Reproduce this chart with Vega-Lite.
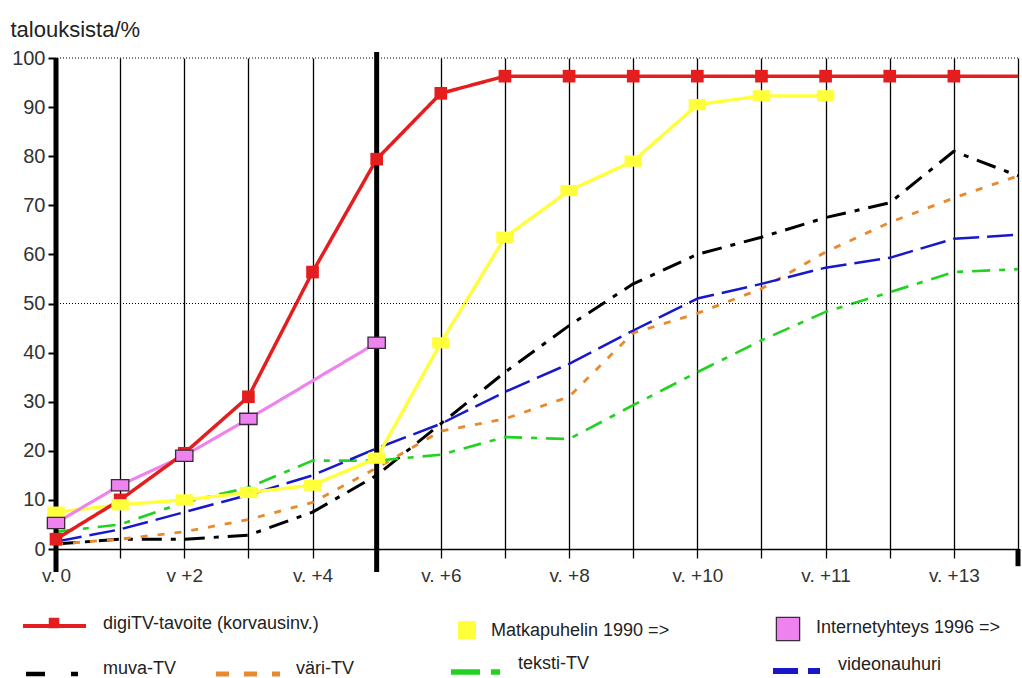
{
  "$schema": "https://vega.github.io/schema/vega-lite/v6.json",
  "background": "white",
  "padding": {"left": 10, "top": 18, "right": 0, "bottom": 0},
  "spacing": 14,
  "config": {
    "view": {"stroke": null},
    "font": "Liberation Sans",
    "axisX": {"labelOverlap": false, "tickSize": 9, "tickColor": "#000", "tickWidth": 1.3},
    "axisY": {"labelOverlap": false, "tickSize": 8, "tickColor": "#000", "tickWidth": 2}
  },
  "datasets": {
    "series": [
      {"series": "muva-TV", "x": 0, "y": 1}, {"series": "muva-TV", "x": 1, "y": 2}, {"series": "muva-TV", "x": 2, "y": 2}, {"series": "muva-TV", "x": 3, "y": 2.8}, {"series": "muva-TV", "x": 4, "y": 7.5}, {"series": "muva-TV", "x": 5, "y": 15}, {"series": "muva-TV", "x": 6, "y": 25.5}, {"series": "muva-TV", "x": 7, "y": 36}, {"series": "muva-TV", "x": 8, "y": 45.5}, {"series": "muva-TV", "x": 9, "y": 54}, {"series": "muva-TV", "x": 10, "y": 60}, {"series": "muva-TV", "x": 11, "y": 63.5}, {"series": "muva-TV", "x": 12, "y": 67.5}, {"series": "muva-TV", "x": 13, "y": 70.5}, {"series": "muva-TV", "x": 14, "y": 81}, {"series": "muva-TV", "x": 15, "y": 76},
      {"series": "väri-TV", "x": 0, "y": 1}, {"series": "väri-TV", "x": 1, "y": 2}, {"series": "väri-TV", "x": 2, "y": 3.5}, {"series": "väri-TV", "x": 3, "y": 6}, {"series": "väri-TV", "x": 4, "y": 9.5}, {"series": "väri-TV", "x": 5, "y": 16.5}, {"series": "väri-TV", "x": 6, "y": 24}, {"series": "väri-TV", "x": 7, "y": 26.5}, {"series": "väri-TV", "x": 8, "y": 31}, {"series": "väri-TV", "x": 9, "y": 44}, {"series": "väri-TV", "x": 10, "y": 48}, {"series": "väri-TV", "x": 11, "y": 53}, {"series": "väri-TV", "x": 12, "y": 60.5}, {"series": "väri-TV", "x": 13, "y": 66.5}, {"series": "väri-TV", "x": 14, "y": 71.5}, {"series": "väri-TV", "x": 15, "y": 76},
      {"series": "teksti-TV", "x": 0, "y": 3.5}, {"series": "teksti-TV", "x": 1, "y": 5}, {"series": "teksti-TV", "x": 2, "y": 9.5}, {"series": "teksti-TV", "x": 3, "y": 12.5}, {"series": "teksti-TV", "x": 4, "y": 18}, {"series": "teksti-TV", "x": 5, "y": 18}, {"series": "teksti-TV", "x": 6, "y": 19.2}, {"series": "teksti-TV", "x": 7, "y": 22.8}, {"series": "teksti-TV", "x": 8, "y": 22.4}, {"series": "teksti-TV", "x": 9, "y": 29.3}, {"series": "teksti-TV", "x": 10, "y": 36}, {"series": "teksti-TV", "x": 11, "y": 42.5}, {"series": "teksti-TV", "x": 12, "y": 48.3}, {"series": "teksti-TV", "x": 13, "y": 52.3}, {"series": "teksti-TV", "x": 14, "y": 56.4}, {"series": "teksti-TV", "x": 15, "y": 57},
      {"series": "videonauhuri", "x": 0, "y": 1.5}, {"series": "videonauhuri", "x": 1, "y": 4}, {"series": "videonauhuri", "x": 2, "y": 7.5}, {"series": "videonauhuri", "x": 3, "y": 11}, {"series": "videonauhuri", "x": 4, "y": 15}, {"series": "videonauhuri", "x": 5, "y": 20.5}, {"series": "videonauhuri", "x": 6, "y": 25.5}, {"series": "videonauhuri", "x": 7, "y": 32}, {"series": "videonauhuri", "x": 8, "y": 37.7}, {"series": "videonauhuri", "x": 9, "y": 44.5}, {"series": "videonauhuri", "x": 10, "y": 51}, {"series": "videonauhuri", "x": 11, "y": 54}, {"series": "videonauhuri", "x": 12, "y": 57.3}, {"series": "videonauhuri", "x": 13, "y": 59.3}, {"series": "videonauhuri", "x": 14, "y": 63.2}, {"series": "videonauhuri", "x": 15, "y": 64},
      {"series": "Matkapuhelin 1990 =>", "x": 0, "y": 7.5}, {"series": "Matkapuhelin 1990 =>", "x": 1, "y": 9}, {"series": "Matkapuhelin 1990 =>", "x": 2, "y": 10}, {"series": "Matkapuhelin 1990 =>", "x": 3, "y": 11.5}, {"series": "Matkapuhelin 1990 =>", "x": 4, "y": 13}, {"series": "Matkapuhelin 1990 =>", "x": 5, "y": 18.5}, {"series": "Matkapuhelin 1990 =>", "x": 6, "y": 42}, {"series": "Matkapuhelin 1990 =>", "x": 7, "y": 63.5}, {"series": "Matkapuhelin 1990 =>", "x": 8, "y": 73}, {"series": "Matkapuhelin 1990 =>", "x": 9, "y": 79}, {"series": "Matkapuhelin 1990 =>", "x": 10, "y": 90.5}, {"series": "Matkapuhelin 1990 =>", "x": 11, "y": 92.3}, {"series": "Matkapuhelin 1990 =>", "x": 12, "y": 92.3},
      {"series": "Internetyhteys 1996 =>", "x": 0, "y": 5.3}, {"series": "Internetyhteys 1996 =>", "x": 1, "y": 13}, {"series": "Internetyhteys 1996 =>", "x": 2, "y": 19}, {"series": "Internetyhteys 1996 =>", "x": 3, "y": 26.5}, {"series": "Internetyhteys 1996 =>", "x": 5, "y": 42},
      {"series": "digiTV-tavoite (korvausinv.)", "x": 0, "y": 2}, {"series": "digiTV-tavoite (korvausinv.)", "x": 1, "y": 10}, {"series": "digiTV-tavoite (korvausinv.)", "x": 2, "y": 19.5}, {"series": "digiTV-tavoite (korvausinv.)", "x": 3, "y": 31}, {"series": "digiTV-tavoite (korvausinv.)", "x": 4, "y": 56.4}, {"series": "digiTV-tavoite (korvausinv.)", "x": 5, "y": 79.4}, {"series": "digiTV-tavoite (korvausinv.)", "x": 6, "y": 92.8}, {"series": "digiTV-tavoite (korvausinv.)", "x": 7, "y": 96.3}, {"series": "digiTV-tavoite (korvausinv.)", "x": 8, "y": 96.3}, {"series": "digiTV-tavoite (korvausinv.)", "x": 9, "y": 96.3}, {"series": "digiTV-tavoite (korvausinv.)", "x": 10, "y": 96.3}, {"series": "digiTV-tavoite (korvausinv.)", "x": 11, "y": 96.3}, {"series": "digiTV-tavoite (korvausinv.)", "x": 12, "y": 96.3}, {"series": "digiTV-tavoite (korvausinv.)", "x": 13, "y": 96.3}, {"series": "digiTV-tavoite (korvausinv.)", "x": 14, "y": 96.3}, {"series": "digiTV-tavoite (korvausinv.)", "x": 15, "y": 96.3}
    ],
    "guides": [{"gx": 0, "ga": -4.7, "gb": 100}, {"gx": 5, "ga": -4.7, "gb": 101.2}, {"gx": 15, "ga": -3.5, "gb": 0}],
    "dotted": [{"gy": 50}, {"gy": 100}],
    "legend": [
      {"series": "digiTV-tavoite (korvausinv.)", "a": 25, "b": 88, "sy": 627, "box": 56, "boxy": 624, "tx": 105, "ty": 625},
      {"series": "Matkapuhelin 1990 =>", "sy": 631, "box": 469, "boxy": 631, "tx": 493, "ty": 632},
      {"series": "Internetyhteys 1996 =>", "sy": 630, "box": 790, "boxy": 630, "tx": 818, "ty": 629},
      {"series": "muva-TV", "a": 28, "b": 80, "sy": 675, "tx": 105, "ty": 670},
      {"series": "väri-TV", "a": 218, "b": 282, "sy": 675, "tx": 298, "ty": 670},
      {"series": "teksti-TV", "a": 453, "b": 502, "sy": 673, "tx": 520, "ty": 665},
      {"series": "videonauhuri", "a": 775, "b": 822, "sy": 672, "tx": 840, "ty": 666}
    ]
  },
  "resolve": {"scale": {"x": "independent", "y": "independent", "strokeWidth": "independent", "strokeDash": "independent", "size": "independent"}},
  "vconcat": [
    {
      "width": 962,
      "height": 491,
      "layer": [
        {
          "data": {"name": "series"},
          "mark": {"type": "line", "strokeCap": "butt", "strokeJoin": "round"},
          "encoding": {
            "x": {"field": "x", "type": "quantitative", "title": null, "scale": {"domain": [0, 15], "nice": false, "zero": false},
              "axis": {"title": null, "values": [0,1,2,3,4,5,6,7,8,9,10,11,12,13,14,15],
                "labelExpr": "['v. 0','','v +2','','v. +4','','v. +6','','v. +8','','v. +10','','v. +11','','v. +13',''][datum.value]",
                "labelFontSize": 19, "labelColor": "#333", "labelPadding": 8, "labelFlush": false, "labelOverlap": false,
                "grid": true, "gridColor": "#000", "gridWidth": 1.3, "gridOpacity": 1,
                "domainColor": "#000", "domainWidth": 1.5, "tickColor": "#000", "tickWidth": 1.3, "tickSize": 9}},
            "y": {"field": "y", "type": "quantitative", "title": "talouksista/%", "scale": {"domain": [0, 100], "nice": false},
              "axis": {"title": "talouksista/%", "titleAngle": 0, "titleAlign": "left", "titleBaseline": "alphabetic", "titleX": -46, "titleY": -22, "titleFontSize": 22, "titleFontWeight": "normal", "titleColor": "#222",
                "values": [0, 10, 20, 30, 40, 50, 60, 70, 80, 90, 100],
                "labelFontSize": 20, "labelColor": "#333", "labelPadding": 3, "labelOverlap": false,
                "grid": false, "domain": false, "ticks": true, "tickColor": "#000", "tickWidth": 2, "tickSize": 8}},
            "color": {"field": "series", "type": "nominal", "legend": null,
              "scale": {"domain": ["digiTV-tavoite (korvausinv.)", "Matkapuhelin 1990 =>", "Internetyhteys 1996 =>", "muva-TV", "väri-TV", "teksti-TV", "videonauhuri"],
                "range": ["#e41e1e", "#ffff3a", "#ee82ee", "#000000", "#e8892e", "#22d222", "#1818c8"]}},
            "strokeDash": {"field": "series", "type": "nominal", "legend": null,
              "scale": {"domain": ["digiTV-tavoite (korvausinv.)", "Matkapuhelin 1990 =>", "Internetyhteys 1996 =>", "muva-TV", "väri-TV", "teksti-TV", "videonauhuri"],
                "range": [[1, 0], [1, 0], [1, 0], [20, 9, 5, 9], [7, 10], [18, 9, 6, 9], [26, 8]]}},
            "strokeWidth": {"field": "series", "type": "ordinal", "legend": null,
              "scale": {"domain": ["digiTV-tavoite (korvausinv.)", "Matkapuhelin 1990 =>", "Internetyhteys 1996 =>", "muva-TV", "väri-TV", "teksti-TV", "videonauhuri"],
                "range": [3.5, 2.5, 2, 3.5, 3.5, 4, 3]}}
          }
        },
        {
          "data": {"name": "dotted"},
          "mark": {"type": "rule", "color": "#000", "strokeDash": [1, 2], "strokeWidth": 1},
          "encoding": {"y": {"field": "gy", "type": "quantitative", "title": "talouksista/%"}}
        },
        {
          "data": {"name": "guides"},
          "mark": {"type": "rule", "color": "#000", "strokeWidth": 5},
          "encoding": {
            "x": {"field": "gx", "type": "quantitative", "title": null},
            "y": {"field": "ga", "type": "quantitative", "title": "talouksista/%"},
            "y2": {"field": "gb"}
          }
        },
        {
          "data": {"name": "series"},
          "transform": [{"filter": "datum.series === 'digiTV-tavoite (korvausinv.)' && datum.x < 15"}],
          "mark": {"type": "point", "shape": "square", "filled": true, "opacity": 1, "size": 160},
          "encoding": {
            "x": {"field": "x", "type": "quantitative", "title": null},
            "y": {"field": "y", "type": "quantitative", "title": "talouksista/%"},
            "color": {"field": "series", "type": "nominal", "legend": null}
          }
        },
        {
          "data": {"name": "series"},
          "transform": [{"filter": "datum.series === 'Matkapuhelin 1990 =>' || datum.series === 'Internetyhteys 1996 =>'"}],
          "mark": {"type": "point", "shape": "M-1,-0.65H1V0.65H-1Z", "filled": true, "opacity": 1, "size": 300, "strokeWidth": 1.3},
          "encoding": {
            "x": {"field": "x", "type": "quantitative", "title": null},
            "y": {"field": "y", "type": "quantitative", "title": "talouksista/%"},
            "color": {"field": "series", "type": "nominal", "legend": null},
            "stroke": {"condition": {"test": "datum.series === 'Internetyhteys 1996 =>'", "value": "#3a2a3a"}, "value": "transparent"}
          }
        }
      ]
    },
    {
      "width": 962,
      "height": 78,
      "data": {"name": "legend"},
      "layer": [
        {
          "transform": [{"filter": "datum.a != null"}],
          "mark": {"type": "rule", "strokeCap": "butt"},
          "encoding": {
            "x": {"field": "a", "type": "quantitative", "scale": {"domain": [58, 1020], "nice": false, "zero": false}, "axis": null},
            "x2": {"field": "b"},
            "y": {"field": "sy", "type": "quantitative", "scale": {"domain": [600, 678], "reverse": true, "nice": false, "zero": false}, "axis": null},
            "color": {"field": "series", "type": "nominal", "legend": null},
            "strokeDash": {"field": "series", "type": "nominal", "legend": null,
              "scale": {"domain": ["digiTV-tavoite (korvausinv.)", "muva-TV", "väri-TV", "teksti-TV", "videonauhuri"],
                "range": [[1, 0], [19, 26, 7, 30], [13, 15], [29, 11, 9, 30], [25, 10, 12, 30]]}},
            "strokeWidth": {"field": "series", "type": "ordinal", "legend": null,
              "scale": {"domain": ["digiTV-tavoite (korvausinv.)", "muva-TV", "väri-TV", "teksti-TV", "videonauhuri"],
                "range": [4, 6, 7, 6, 3]}}
          }
        },
        {
          "transform": [{"filter": "datum.box != null"}],
          "mark": {"type": "point", "shape": "square", "filled": true, "opacity": 1, "strokeWidth": 1.3},
          "encoding": {
            "x": {"field": "box", "type": "quantitative", "axis": null},
            "y": {"field": "boxy", "type": "quantitative", "axis": null},
            "color": {"field": "series", "type": "nominal", "legend": null},
            "size": {"field": "series", "type": "ordinal", "legend": null,
              "scale": {"domain": ["digiTV-tavoite (korvausinv.)", "Matkapuhelin 1990 =>", "Internetyhteys 1996 =>"], "range": [110, 540, 560]}},
            "stroke": {"condition": {"test": "datum.series === 'Internetyhteys 1996 =>'", "value": "#3a2a3a"}, "value": "transparent"}
          }
        },
        {
          "mark": {"type": "text", "align": "left", "baseline": "middle", "fontSize": 18, "color": "#222"},
          "encoding": {
            "x": {"field": "tx", "type": "quantitative", "axis": null},
            "y": {"field": "ty", "type": "quantitative", "axis": null},
            "text": {"field": "series"}
          }
        }
      ]
    }
  ]
}
